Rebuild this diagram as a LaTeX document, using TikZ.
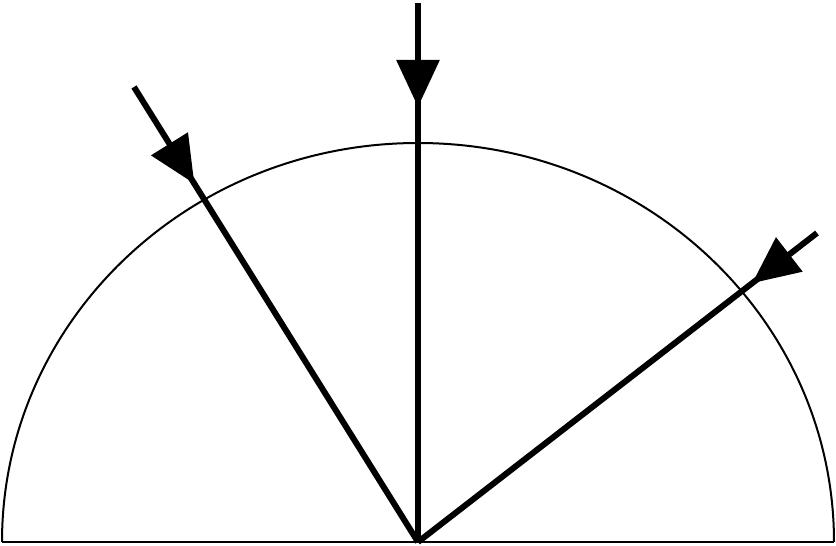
\documentclass[tikz,border=0pt]{standalone}
\usetikzlibrary{arrows.meta,decorations.markings}
\tikzset{
  thinline/.style={line width=2pt},
  ray/.style={line width=6pt, postaction={decorate},
    decoration={markings, mark=at position #1 with {\arrow{Triangle[length=47pt,width=42pt]}}}},
}
\begin{document}
\begin{tikzpicture}[x=1pt,y=1pt]
\useasboundingbox (0,0) rectangle (836,546);
\coordinate (O) at (418,4);
\coordinate (L) at (134,459);
\coordinate (V) at (418,543);
\coordinate (R) at (817,313);
\coordinate (BL) at (2,4);
\coordinate (BR) at (834,4);
\draw[thinline] (BL) -- (BR);
\draw[thinline] (BR) arc[start angle=0,end angle=180,x radius=416,y radius=399];
\draw[ray=114pt] (L) -- (O);
\draw[ray=104pt] (V) -- (O);
\draw[ray=82pt] (R) -- (O);
\end{tikzpicture}
\end{document}
